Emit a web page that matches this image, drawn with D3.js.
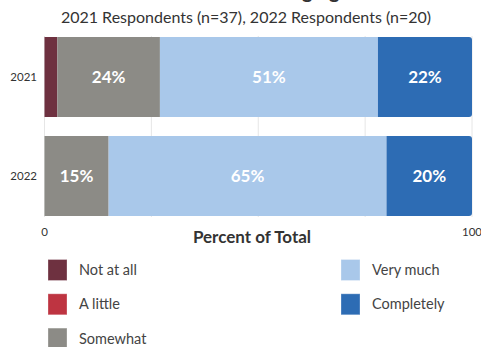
<!DOCTYPE html>
<html>
<head>
<meta charset="utf-8">
<script src="https://cdn.jsdelivr.net/npm/d3@7"></script>
<style>
  body { margin: 0; background: #fff; }
  svg { font-family: Lato, "Noto Sans", sans-serif; }
</style>
</head>
<body>
<script>
    var years = ['2021', '2022'];
    var categories = ['Not at all', 'A little', 'Somewhat', 'Very much', 'Completely'];
    var colors = ['#6e3140', '#be3441', '#8c8b86', '#a9c8ea', '#2d6cb4'];
    var values2021 = [3, 0, 24, 51, 22];
    var values2022 = [0, 0, 15, 65, 20];
    var xTicks = [0, 100];
    var gridTicks = [0, 25, 50, 75, 100];

    var w = 481, h = 347;
    var margin = {left: 44.5, right: 9, top: 36, bottom: 130};

    var svg = d3.select('body').append('svg')
            .attr('width', w)
            .attr('height', h);

    var x = d3.scaleLinear().domain([0, 100]).range([margin.left, w - margin.right]);
    var y = d3.scaleBand().domain(years).range([margin.top, h - margin.bottom])
            .paddingInner(0.19).paddingOuter(0.01);

    // title sits mostly above the frame, only descenders peek in
    svg.append('text')
            .attr('x', 255).attr('y', -2)
            .attr('text-anchor', 'middle')
            .attr('font-size', 20).attr('font-weight', 'bold')
            .attr('fill', '#333')
            .text('Sense of Belonging');

    svg.append('text')
            .attr('x', 246).attr('y', 23)
            .attr('text-anchor', 'middle')
            .attr('font-size', 16)
            .attr('fill', '#333')
            .text('2021 Respondents (n=37), 2022 Respondents (n=20)');

    // gridlines
    svg.append('g').selectAll('line')
            .data(gridTicks)
            .enter().append('line')
            .attr('x1', function (d) { return x(d); })
            .attr('x2', function (d) { return x(d); })
            .attr('y1', margin.top)
            .attr('y2', h - margin.bottom)
            .attr('stroke', '#e6e6e6')
            .attr('stroke-width', 1);

    // stacked rows
    var rows = [values2021, values2022];
    rows.forEach(function (vals, i) {
        var yr = years[i];
        var stacked = [];
        var acc = 0;
        vals.forEach(function (v, j) {
            stacked.push({x0: acc, x1: acc + v, v: v, c: colors[j]});
            acc += v;
        });
        var segs = stacked.filter(function (d) { return d.v > 0; });
        var g = svg.append('g');

        g.selectAll('path')
                .data(segs)
                .enter().append('path')
                .attr('fill', function (d) { return d.c; })
                .attr('d', function (d, k) {
                    var x0 = x(d.x0), x1 = x(d.x1), y0 = y(yr), y1 = y(yr) + y.bandwidth();
                    var r = (k === segs.length - 1) ? 3 : 0;
                    return 'M' + x0 + ',' + y0 + 'H' + (x1 - r) +
                            'Q' + x1 + ',' + y0 + ' ' + x1 + ',' + (y0 + r) +
                            'V' + (y1 - r) +
                            'Q' + x1 + ',' + y1 + ' ' + (x1 - r) + ',' + y1 +
                            'H' + x0 + 'Z';
                });

        g.selectAll('text')
                .data(segs.filter(function (d) { return d.v >= 10; }))
                .enter().append('text')
                .attr('x', function (d) { return (x(d.x0) + x(d.x1)) / 2; })
                .attr('y', y(yr) + y.bandwidth() / 2)
                .attr('dy', '0.36em')
                .attr('text-anchor', 'middle')
                .attr('font-size', 17).attr('font-weight', 'bold')
                .attr('fill', '#fff')
                .text(function (d) { return d.v + '%'; });
    });

    // y labels
    svg.append('g').selectAll('text')
            .data(years)
            .enter().append('text')
            .attr('x', 37)
            .attr('y', function (d) { return y(d) + y.bandwidth() / 2; })
            .attr('dy', '0.35em')
            .attr('text-anchor', 'end')
            .attr('font-size', 11.5)
            .attr('fill', '#333')
            .text(function (d) { return d; });

    // x axis tick labels
    svg.append('g').selectAll('text')
            .data(xTicks)
            .enter().append('text')
            .attr('x', function (d) { return x(d); })
            .attr('y', 236)
            .attr('text-anchor', 'middle')
            .attr('font-size', 11.5)
            .attr('fill', '#333')
            .text(function (d) { return d; });

    svg.append('text')
            .attr('x', 252).attr('y', 243)
            .attr('text-anchor', 'middle')
            .attr('font-size', 17).attr('font-weight', 'bold')
            .attr('fill', '#333')
            .text('Percent of Total');

    // legend
    var legend = svg.append('g').selectAll('g')
            .data(categories)
            .enter().append('g')
            .attr('transform', function (d, i) {
                var col = i < 3 ? 0 : 1;
                var row = i < 3 ? i : i - 3;
                return 'translate(' + (col ? 341 : 48) + ',' + (259.5 + row * 34.3) + ')';
            });

    legend.append('rect')
            .attr('width', 19).attr('height', 21)
            .attr('fill', function (d, i) { return colors[i]; })
            .attr('stroke', '#fff').attr('stroke-opacity', 0.3);

    legend.append('text')
            .attr('x', 31).attr('y', 10.5)
            .attr('dy', '0.35em')
            .attr('font-size', 14.5)
            .attr('fill', '#444')
            .text(function (d) { return d; });
</script>
</body>
</html>
